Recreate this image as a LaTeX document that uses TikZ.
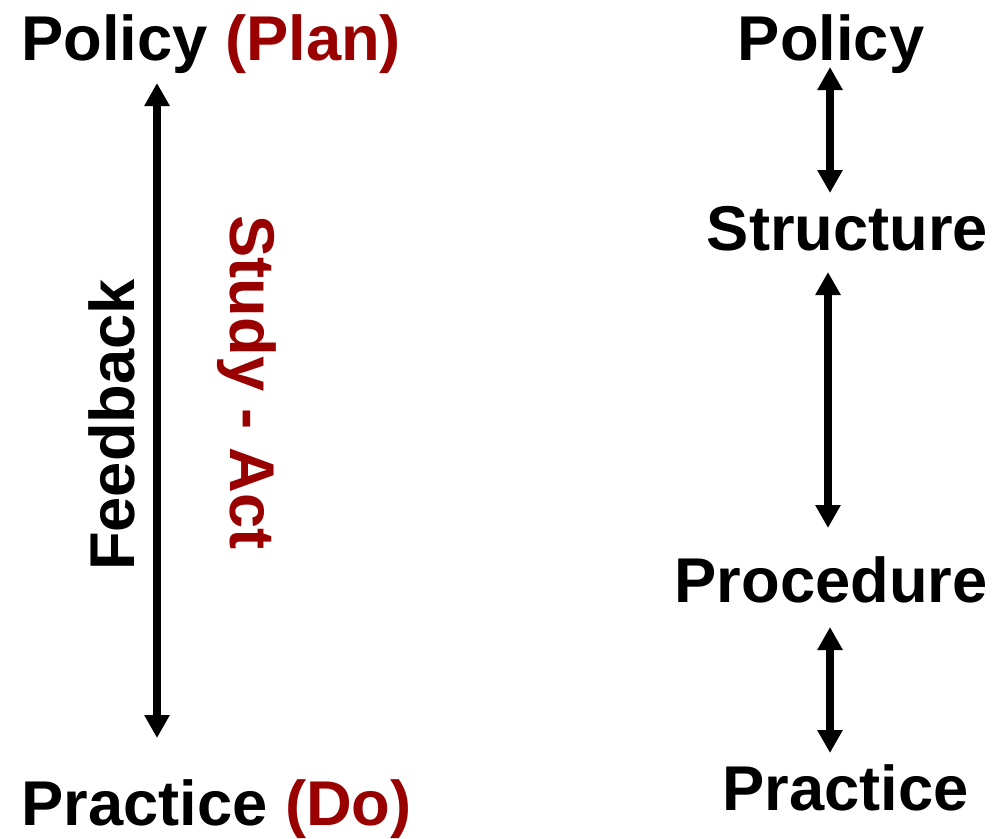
\documentclass[tikz,border=0pt]{standalone}
\usepackage{fontspec}
\setmainfont{Liberation Sans}
\usepackage{tikz}
\usetikzlibrary{arrows.meta}
\usetikzlibrary{calc}
\definecolor{plandark}{RGB}{153,0,0}

\begin{document}
\begin{tikzpicture}[
    lbl/.style={inner sep=0pt, font=\fontsize{36}{43}\selectfont\bfseries},
    twoway/.style={{Triangle[width=0.48cm,length=0.46cm]}-{Triangle[width=0.48cm,length=0.46cm]}, line width=4.4pt}
  ]
  \useasboundingbox (0,0) rectangle (19.86,-16.76);

  % plan-do with the feedback loop on the left
  \node[lbl, anchor=base west] (pol) at (0.42,-1.2) {Policy \textcolor{plandark}{(Plan)}};
  \node[lbl, anchor=base west] (prc) at (0.42,-16.5) {Practice \textcolor{plandark}{(Do)}};
  \node[lbl, rotate=90] (fb) at (2.23,-8.5) {Feedback};
  \node[lbl, rotate=-90, text=plandark] (sa) at (4.94,-7.65) {Study - Act};

  \draw[twoway] ($(pol.base west)+(2.72,-0.46)$) -- ($(prc.base west)+(2.72,1.74)$);

  % the four levels on the right
  \node[lbl, anchor=base] (rpol) at (16.62,-1.2) {Policy};
  \node[lbl, anchor=base] (rstr) at (16.95,-5.0) {Structure};
  \node[lbl, anchor=base] (rpro) at (16.62,-12.04) {Procedure};
  \node[lbl, anchor=base] (rprc) at (16.91,-16.2) {Practice};

  \draw[twoway] ($(rpol.base)+(-0.02,-0.14)$) -- ($(rpol.base |- rstr.base)+(-0.02,1.14)$);
  \draw[twoway] ($(rpol.base |- rstr.base)+(-0.06,-0.44)$) -- ($(rpol.base |- rpro.base)+(-0.06,1.48)$);
  \draw[twoway] ($(rpol.base |- rpro.base)+(-0.02,-0.50)$) -- ($(rpol.base |- rprc.base)+(-0.02,1.14)$);
\end{tikzpicture}
\end{document}
